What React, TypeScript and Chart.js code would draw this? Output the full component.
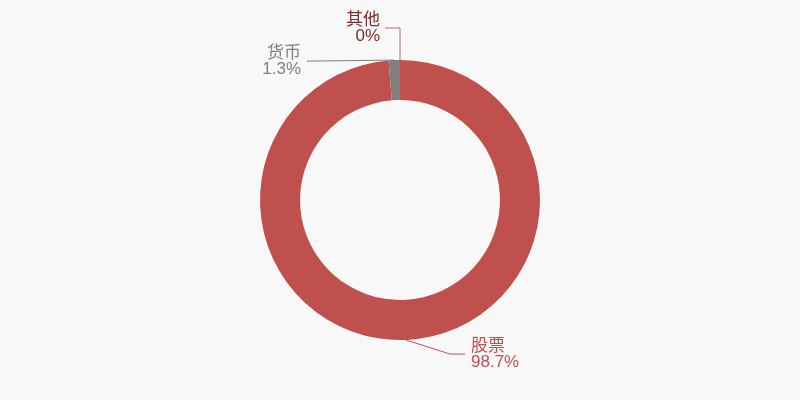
import React, { useEffect, useRef } from "react";
import { Chart, registerables } from "chart.js";

Chart.register(...registerables);

const categories = ["股票", "货币", "其他"];
const values = [98.7, 1.3, 0];
const valueLabels = ["98.7%", "1.3%", "0%"];
const colors = ["#c0504d", "#7f7f7f", "#8b3a3a"];
const textColors = ["#c0504d", "#808080", "#7a2e2e"];

const FONT = '17px "Liberation Sans", "Noto Sans CJK SC", sans-serif';

const labelPlugin = {
  id: "calloutLabels",
  afterDraw(chart: any) {
    const ctx = chart.ctx;
    const meta = chart.getDatasetMeta(0);
    const arcs = meta.data;
    ctx.save();
    ctx.font = FONT;
    ctx.lineWidth = 1;
    ctx.textBaseline = "middle";
    arcs.forEach((arc: any, i: number) => {
      const { x, y, startAngle, endAngle, outerRadius } = arc.getProps(
        ["x", "y", "startAngle", "endAngle", "outerRadius"],
        true
      );
      const mid = (startAngle + endAngle) / 2;
      const px = x + Math.cos(mid) * outerRadius;
      const py = y + Math.sin(mid) * outerRadius;
      ctx.strokeStyle = colors[i];
      ctx.fillStyle = textColors[i];
      ctx.beginPath();
      ctx.moveTo(px, py);
      let tx = 0;
      let ty = 0;
      if (i === 0) {
        const ex = x + 50;
        const ey = y + outerRadius + 14;
        ctx.lineTo(ex, ey);
        ctx.lineTo(ex + 15, ey);
        ctx.stroke();
        ctx.textAlign = "left";
        tx = ex + 21;
        ty = ey;
      } else if (i === 1) {
        const ey = py + 1;
        const ex = x - 93;
        ctx.lineTo(ex, ey);
        ctx.stroke();
        ctx.textAlign = "right";
        tx = ex - 6;
        ty = ey;
      } else {
        ctx.globalAlpha = 0.7;
        const ey = py - 32;
        ctx.lineTo(px, ey);
        ctx.lineTo(px - 15, ey);
        ctx.stroke();
        ctx.globalAlpha = 1;
        ctx.textAlign = "right";
        tx = px - 20;
        ty = ey;
      }
      ctx.fillText(categories[i], tx, ty - 8);
      ctx.fillText(valueLabels[i], tx, ty + 8);
    });
    ctx.restore();
  },
};

const bgPlugin = {
  id: "bg",
  beforeDraw(chart: any) {
    const ctx = chart.ctx;
    ctx.save();
    ctx.fillStyle = "#f8f8f8";
    ctx.fillRect(0, 0, chart.width, chart.height);
    ctx.restore();
  },
};

export default function App() {
  const ref = useRef<HTMLCanvasElement>(null);
  useEffect(() => {
    document.body.style.margin = "0";
    if (!ref.current) return;
    const chart = new Chart(ref.current, {
      type: "doughnut",
      data: {
        labels: categories,
        datasets: [
          {
            data: values,
            backgroundColor: colors,
            borderWidth: 0,
          },
        ],
      },
      options: {
        animation: false,
        responsive: false,
        cutout: "71.4%",
        layout: { padding: { top: 60, bottom: 60 } },
        plugins: {
          legend: { display: false },
          tooltip: { enabled: false },
        },
      },
      plugins: [bgPlugin, labelPlugin],
    });
    return () => chart.destroy();
  }, []);
  return (
    <div style={{ width: 800, height: 400 }}>
      <canvas ref={ref} width={800} height={400} style={{ display: "block" }} />
    </div>
  );
}
